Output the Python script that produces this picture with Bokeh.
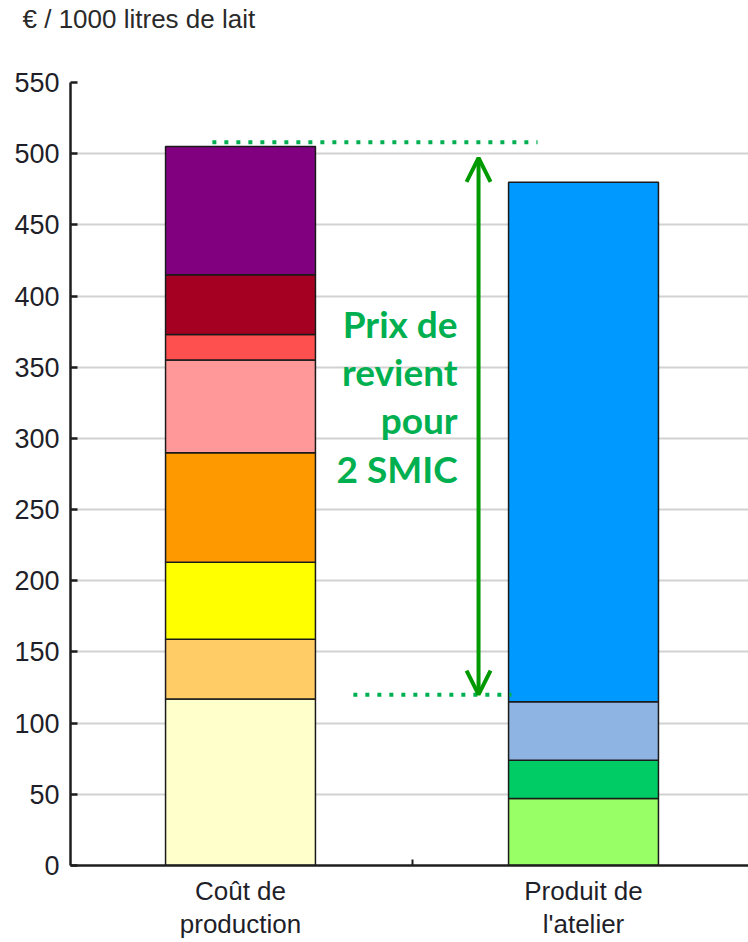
from bokeh.plotting import figure
from bokeh.models import ColumnDataSource, Range1d, FixedTicker, Arrow, OpenHead, Title
from bokeh.core.properties import value
from bokeh.embed import file_html
from bokeh.resources import INLINE

# ---------------- data ----------------
categories = ["Coût de\nproduction", "Produit de\nl'atelier"]
cout_values = [117, 42, 54, 77, 65, 18, 42, 90]
cout_colors = ["#FFFFCC", "#FFCC66", "#FFFF00", "#FF9900", "#FF9999", "#FF5050", "#A50021", "#800080"]
produit_values = [47, 27, 41, 365]
produit_colors = ["#99FF66", "#00CC66", "#8EB4E3", "#0099FF"]
y_ticks = [0, 50, 100, 150, 200, 250, 300, 350, 400, 450, 500, 550]
y_title = "€ / 1000 litres de lait"
annotation_lines = ["Prix de", "revient", "pour", "2 SMIC"]
prix_bas = 120
prix_haut = 508

# ---------------- build stacks ----------------
xs, bottoms, tops, colors = [], [], [], []
for i, (vals, cols) in enumerate([(cout_values, cout_colors), (produit_values, produit_colors)]):
    acc = 0
    for v, c in zip(vals, cols):
        xs.append(i + 0.5)
        bottoms.append(acc)
        acc += v
        tops.append(acc)
        colors.append(c)
src = ColumnDataSource(dict(x=xs, bottom=bottoms, top=tops, color=colors))

p = figure(width=748, height=942, title=None,
           x_range=Range1d(0.0044, 1.981), y_range=Range1d(0, 550),
           output_backend="svg", toolbar_location=None,
           min_border_left=70, min_border_right=0, min_border_top=82, min_border_bottom=77)
p.outline_line_color = None
p.background_fill_color = "white"
p.border_fill_color = "white"

# spacer (closest to the frame) then the unit title above it
p.add_layout(Title(text=" ", text_font_size="1px", standoff=45), "above")
p.add_layout(Title(text=y_title, align="left", offset=-48, standoff=2,
                   text_font="Liberation Sans", text_font_style="normal",
                   text_font_size="26px", text_color="#2a2a2a"), "above")

# grid
p.xgrid.grid_line_color = None
p.ygrid.grid_line_color = "#d2d2d2"
p.ygrid.grid_line_width = 2

# y axis
yax = p.yaxis[0]
yax.ticker = FixedTicker(ticks=y_ticks)
yax.axis_line_color = "#1e1e1e"
yax.axis_line_width = 2.5
yax.major_tick_in = 7
yax.major_tick_out = 0
yax.major_tick_line_width = 2.5
yax.major_tick_line_color = "#1e1e1e"
yax.minor_tick_line_color = None
yax.major_label_standoff = 11
yax.major_label_text_font = "Liberation Sans"
yax.major_label_text_font_size = "27px"
yax.major_label_text_color = "#1f1f2a"

# x axis
xax = p.xaxis[0]
xax.ticker = FixedTicker(ticks=[0.5, 1.5], minor_ticks=[1.0])
xax.major_label_overrides = {i + 0.5: cat for i, cat in enumerate(categories)}
xax.axis_line_color = "#1e1e1e"
xax.axis_line_width = 2.5
xax.major_tick_in = 0
xax.major_tick_out = 0
xax.minor_tick_in = 6
xax.minor_tick_out = 0
xax.minor_tick_line_width = 2
xax.minor_tick_line_color = "#1e1e1e"
xax.major_label_standoff = 10
xax.major_label_text_font = "Liberation Sans"
xax.major_label_text_font_size = "26px"
xax.major_label_text_line_height = 1.12
xax.major_label_text_color = "#1f1f2a"

# bars
p.vbar(x="x", bottom="bottom", top="top", width=0.437, source=src,
       fill_color="color", line_color="#1a1a1a", line_width=1.5)

# dotted guide lines
p.segment(x0=[0.418, 0.829], y0=[prix_haut, prix_bas], x1=[1.366, 1.29], y1=[prix_haut, prix_bas],
          line_color="#00B050", line_width=4, line_dash="4 8", line_cap="butt")

# double arrow
p.add_layout(Arrow(start=OpenHead(size=24, line_color="#009900", line_width=4),
                   end=OpenHead(size=24, line_color="#009900", line_width=4),
                   x_start=1.194, y_start=prix_bas, x_end=1.194, y_end=497,
                   line_color="#009900", line_width=4))

# annotation text
step = 34.0
p.text(x=[1.133] * len(annotation_lines),
       y=[381.0 - k * step for k in range(len(annotation_lines))],
       text=annotation_lines, text_align="right", text_baseline="alphabetic",
       text_font=value("Lato"), text_font_style="bold", text_font_size="37px",
       text_color="#00B050")

open("out.html", "w").write(file_html(p, INLINE))
